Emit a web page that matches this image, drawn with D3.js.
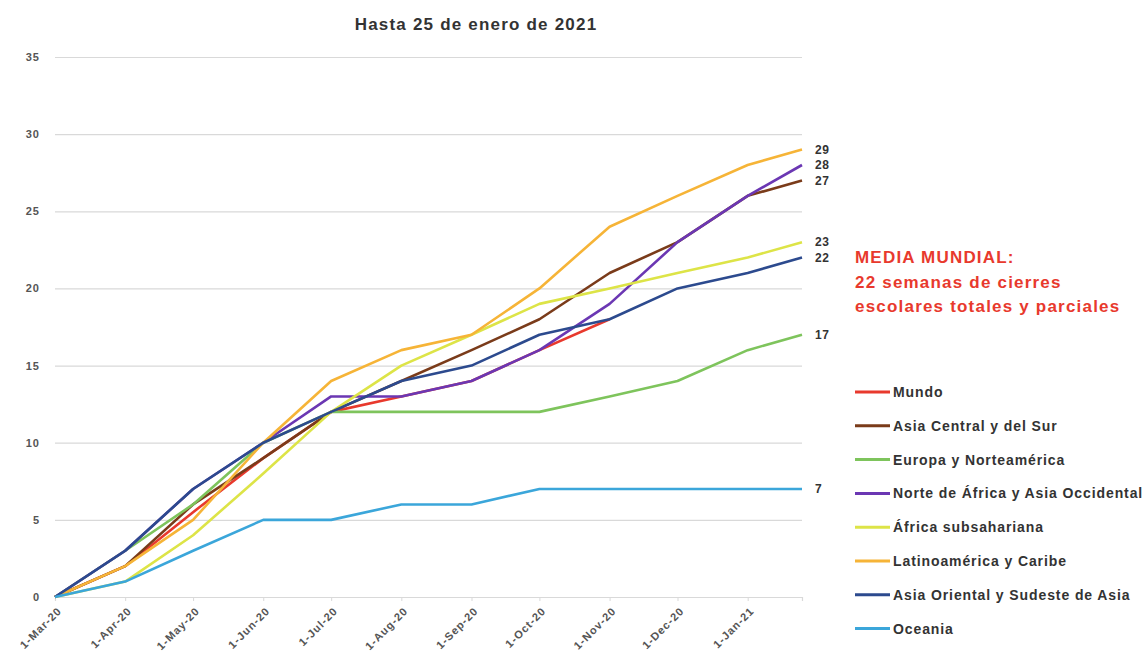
<!doctype html>
<html>
<head>
<meta charset="utf-8">
<script src="https://d3js.org/d3.v7.min.js"></script>
<style>
  body { margin: 0; background: #fff; }
  text { font-family: "Liberation Sans", Arial, sans-serif; }
</style>
</head>
<body>
<svg id="chart" width="1144" height="658"></svg>
<script>
// dates of the points (first of each month + 25 Jan 2021)
var dates = ["2020-03-01","2020-04-01","2020-05-01","2020-06-01","2020-07-01","2020-08-01",
             "2020-09-01","2020-10-01","2020-11-01","2020-12-01","2021-01-01","2021-01-25"];

var names = ["Mundo", "Asia Central y del Sur", "Europa y Norteamérica",
             "Norte de África y Asia Occidental", "África subsahariana",
             "Latinoamérica y Caribe", "Asia Oriental y Sudeste de Asia", "Oceania"];

var colors = ["#e8392d", "#7a3b1a", "#7ec45c", "#6b37b3", "#dde447", "#f6b437", "#2c4a8e", "#3ba6da"];

// weeks of closure
var mundo        = [0, 2, 5.5, 9, 12, 13, 14, 16, 18];
var asiaCentral  = [0, 2, 6, 9, 12, 14, 16, 18, 21, 23, 26, 27];
var europa       = [0, 3, 6, 10, 12, 12, 12, 12, 13, 14, 16, 17];
var norteAfrica  = [0, 3, 7, 10, 13, 13, 14, 16, 19, 23, 26, 28];
var africaSub    = [0, 1, 4, 8, 12, 15, 17, 19, 20, 21, 22, 23];
var latam        = [0, 2, 5, 10, 14, 16, 17, 20, 24, 26, 28, 29];
var asiaOriental = [0, 3, 7, 10, 12, 14, 15, 17, 18, 20, 21, 22];
var oceania      = [0, 1, 3, 5, 5, 6, 6, 7, 7, 7, 7, 7];

var series = [mundo, asiaCentral, europa, norteAfrica, africaSub, latam, asiaOriental, oceania];
var yTicks = [0, 5, 10, 15, 20, 25, 30, 35];

var parse = d3.timeParse("%Y-%m-%d");
var svg = d3.select("#chart");

var x = d3.scaleTime()
    .domain([parse(dates[0]), parse(dates[dates.length - 1])])
    .range([55, 802]);
var y = d3.scaleLinear().domain([0, 35]).range([597, 57]);

// title
svg.append("text")
   .attr("x", 476).attr("y", 30)
   .attr("text-anchor", "middle")
   .attr("font-size", "17px").attr("font-weight", "bold")
   .attr("letter-spacing", "1.2px")
   .attr("fill", "#333")
   .text("Hasta 25 de enero de 2021");

// gridlines + y labels
svg.append("g")
   .attr("transform", "translate(55,0)")
   .call(d3.axisLeft(y).tickValues(yTicks).tickSize(-747).tickPadding(15))
   .call(function(g) {
       g.select(".domain").remove();
       g.selectAll(".tick line").attr("stroke", "#d9d9d9").attr("stroke-width", 1.2);
       g.selectAll(".tick text").attr("fill", "#555").attr("font-size", "11px")
        .attr("font-weight", "bold").attr("letter-spacing", "1px")
        .style("font-family", "'Liberation Sans', Arial, sans-serif");
   });

// x axis
svg.append("g")
   .attr("transform", "translate(0,597)")
   .call(d3.axisBottom(x).ticks(d3.timeMonth.every(1)).tickFormat(d3.timeFormat("%-d-%b-%y")).tickSize(4))
   .call(function(g) {
       g.select(".domain").attr("stroke", "#d9d9d9").attr("stroke-width", 1.2);
       g.selectAll(".tick line").attr("stroke", "#d9d9d9");
       g.selectAll(".tick text")
        .attr("fill", "#555").attr("font-size", "11px").attr("font-weight", "bold")
        .attr("letter-spacing", "1px")
        .style("font-family", "'Liberation Sans', Arial, sans-serif")
        .attr("text-anchor", "end")
        .attr("transform", "translate(4,12) rotate(-45)")
        .attr("dy", "0.35em").attr("y", 0).attr("x", 0);
   });

// lines
var line = d3.line()
    .x(function(d, i) { return x(parse(dates[i])); })
    .y(function(d) { return y(d); });

svg.append("g").selectAll("path")
   .data(series)
   .enter().append("path")
   .attr("d", function(d) { return line(d); })
   .attr("fill", "none")
   .attr("stroke", function(d, i) { return colors[i]; })
   .attr("stroke-width", 2.6)
   .attr("stroke-linejoin", "round");

// end labels
var endSeries = series.slice(1);
svg.append("g").selectAll("text")
   .data(endSeries)
   .enter().append("text")
   .attr("x", 815)
   .attr("y", function(d) { return y(d[d.length - 1]); })
   .attr("dy", "0.35em")
   .attr("font-size", "12px").attr("font-weight", "bold").attr("fill", "#333")
   .attr("letter-spacing", "0.5px")
   .text(function(d) { return d[d.length - 1]; });

// annotation
var note = ["MEDIA MUNDIAL:", "22 semanas de cierres", "escolares totales y parciales"];
svg.append("g").selectAll("text")
   .data(note)
   .enter().append("text")
   .attr("x", 855)
   .attr("y", function(d, i) { return 263 + i * 24.5; })
   .attr("font-size", "17px").attr("font-weight", "bold").attr("fill", "#e8392d")
   .attr("letter-spacing", "1.2px")
   .text(function(d) { return d; });

// legend
var legend = svg.append("g").selectAll("g")
   .data(names)
   .enter().append("g")
   .attr("transform", function(d, i) { return "translate(855," + (392 + i * 33.8) + ")"; });

legend.append("line")
   .attr("x1", 0).attr("x2", 35).attr("y1", 0).attr("y2", 0)
   .attr("stroke", function(d, i) { return colors[i]; })
   .attr("stroke-width", 3);

legend.append("text")
   .attr("x", 38).attr("dy", "0.35em")
   .attr("font-size", "14px").attr("font-weight", "bold").attr("fill", "#333")
   .attr("letter-spacing", "0.9px")
   .text(function(d) { return d; });
</script>
</body>
</html>
